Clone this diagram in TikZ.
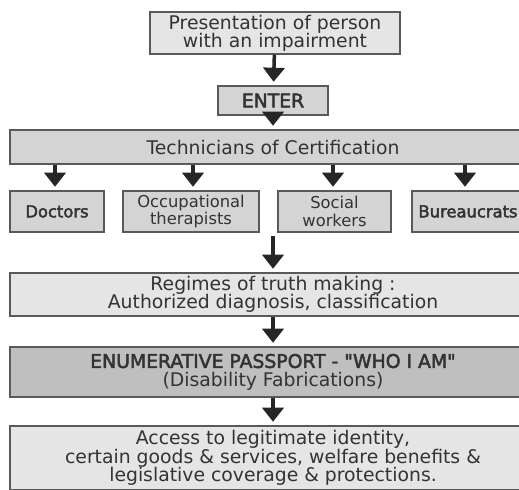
\documentclass[tikz,border=0pt]{standalone}
\usepackage{fontspec}
\setmainfont{DejaVu Sans}
\newfontfamily\semibold[FakeBold=2.6]{DejaVu Sans}
\usepackage{tikz}
\usetikzlibrary{shapes,arrows.meta}
\definecolor{boxline}{gray}{0.35}
\definecolor{boxtext}{gray}{0.2}
\definecolor{palefill}{gray}{0.9}
\definecolor{midfill}{gray}{0.83}
\definecolor{darkfill}{gray}{0.75}
\tikzstyle{block} = [rectangle, draw=boxline, line width=0.8pt, text=boxtext,
    align=center, inner sep=0pt, font=\fontsize{10.7}{10.4}\selectfont]
\tikzstyle{smallblock} = [block, fill=midfill, minimum height=0.82cm,
    font=\fontsize{9.3}{10}\selectfont]
\tikzstyle{wideblock} = [block, minimum width=10.52cm]
\tikzstyle{arrow} = [draw=black!85, -{Triangle[width=12pt,length=8pt]},
    line width=2pt, shorten >=2pt]

\begin{document}
\begin{tikzpicture}[x=0.02cm, y=-0.02cm]
			\useasboundingbox (0,0) rectangle (519,489);
			\clip (0,0) rectangle (519,489);
			% Place nodes
			\node [block, fill=palefill, minimum width=5cm, minimum height=0.84cm] (presentation) at (275,33) {Presentation of person\\with an impairment};
			\node [block, fill=midfill, minimum width=2.2cm, minimum height=0.58cm] (enter) at (273,100.5) {\semibold ENTER};
			\node [wideblock, fill=midfill, minimum height=0.68cm] (technicians) at (273,147) {Technicians of Certification};
			
			\node [smallblock, minimum width=1.88cm] (doctors) at (57,211.5) {\semibold Doctors};
			\node [smallblock, minimum width=2.72cm] (therapists) at (191,211.5) {Occupational\\therapists};
			\node [smallblock, minimum width=2.26cm] (socialworkers) at (334.5,211.5) {Social\\workers};
			\node [smallblock, minimum width=2.24cm] (bureaucrats) at (468,211.5) {\semibold Bureaucrats};
			\coordinate (rowbottom) at (273,236);
			
			\node [wideblock, fill=palefill, minimum height=0.86cm] (regimes) at (273,294.5) {Regimes of truth making :\\Authorized diagnosis, classification};
			\node [wideblock, fill=darkfill, minimum height=1cm] (passport) at (273,372) {{\semibold ENUMERATIVE PASSPORT - \textquotedbl WHO I AM\textquotedbl}\\(Disability Fabrications)};
			\node [wideblock, fill=palefill, minimum height=1.28cm] (access) at (273,458) {Access to legitimate identity,\\certain goods \& services, welfare benefits \&\\legislative coverage \& protections.};
			
			\path [arrow] (presentation) -- (enter);
			\path [arrow] (enter) -- (technicians);
			\path [arrow] (technicians.south -| 55,0) -- (doctors.north -| 55,0);
			\path [arrow] (technicians.south -| 193,0) -- (therapists.north -| 193,0);
			\path [arrow] (technicians.south -| 333,0) -- (socialworkers.north -| 333,0);
			\path [arrow] (technicians.south -| 465,0) -- (bureaucrats.north -| 465,0);
			\path [arrow] (rowbottom) -- (regimes);
			\path [arrow] (regimes) -- (passport);
			\path [arrow] (passport) -- (access);
	\end{tikzpicture}
\end{document}
